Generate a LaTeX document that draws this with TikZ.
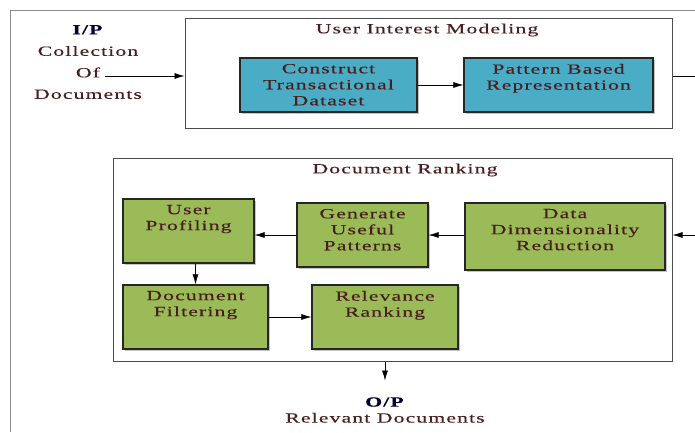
\documentclass[tikz,border=0pt]{standalone}
\usepackage{fontspec}
\setmainfont{Liberation Serif}[FakeStretch=1.55,LetterSpace=8,FakeBold=0.3]
\usetikzlibrary{arrows,arrows.meta,shadows,positioning}
\definecolor{procblue}{RGB}{75,172,198}
\definecolor{procgreen}{RGB}{155,187,89}
\definecolor{txt}{RGB}{72,30,30}

\begin{document}
\begin{tikzpicture}[x=1pt,y=-1pt,>={Latex[length=10pt,width=6pt]},semithick,text=txt,
  font=\fontsize{14}{16}\selectfont,
  panel/.style={draw=black!70,line width=1pt,fill=white,inner sep=0pt},
  proc/.style={draw=black!85,line width=1.3pt,inner sep=0pt,
    drop shadow={shadow xshift=1.5pt,shadow yshift=-1.5pt,opacity=.45}},
  lbl/.style={anchor=north,yshift=-3pt,align=center}]
  \useasboundingbox (0,0) rectangle (695,432);
  \draw[black!45,line width=1pt] (10,432) -- (10,10) -- (695,10);

  \node[panel,minimum width=487pt,minimum height=110pt](uim) at (428.5,73) {};
  \node(uimt) at (427,30) {User Interest Modeling};
  \node[proc,fill=procblue,minimum width=177pt,minimum height=54pt,
    label={[lbl]north:{Construct\\Transactional\\Dataset}}](ctd) at (328.5,85) {};
  \node[proc,fill=procblue,minimum width=189pt,minimum height=54pt,
    label={[lbl]north:{Pattern Based\\Representation}}](pbr) at (558.5,85) {};

  \node[panel,minimum width=559pt,minimum height=203pt](drk) at (392.5,259.5) {};
  \node(drkt) at (405,170) {Document Ranking};
  \node[proc,fill=procgreen,minimum width=131pt,minimum height=64pt,
    label={[lbl]north:{User\\Profiling}}](usp) at (188.5,231) {};
  \node[proc,fill=procgreen,minimum width=131pt,minimum height=64pt,
    label={[lbl]north:{Generate\\Useful\\Patterns}}](gup) at (362.5,235) {};
  \node[proc,fill=procgreen,minimum width=200pt,minimum height=67pt,
    label={[lbl]north:{Data\\Dimensionality\\Reduction}}](ddr) at (565,236.5) {};
  \node[proc,fill=procgreen,minimum width=145pt,minimum height=64pt,
    label={[lbl]north:{Document\\Filtering}}](dfl) at (195.5,317) {};
  \node[proc,fill=procgreen,minimum width=146pt,minimum height=64pt,
    label={[lbl]north:{Relevance\\Ranking}}](rrk) at (385,317) {};

  \node[align=center,font=\fontsize{14}{21.5}\selectfont](inp) at (88,62)
    {{\color{black!80!blue}\textbf{I/P}}\\Collection\\Of\\Documents};
  \coordinate(src) at (105,76);
  \node[align=center](outp) at (385,410)
    {{\color{black!80!blue}\textbf{O/P}}\\Relevant Documents};

  \draw[->] (src) -- (src -| uim.west);
  \draw[->] (ctd) -- (pbr);
  \draw[->] (uim.east |- src) -- ++(30,0) |- (drk.east |- gup.east);
  \draw[->] (ddr.west |- gup.east) -- (gup.east);
  \draw[->] (gup.west) -- (gup.west -| usp.east);
  \draw[->] (usp.south -| dfl.north) -- (dfl.north);
  \draw[->] (dfl) -- (rrk);
  \draw[->] (drk.south -| rrk) -- ++(0,19);
\end{tikzpicture}
\end{document}
